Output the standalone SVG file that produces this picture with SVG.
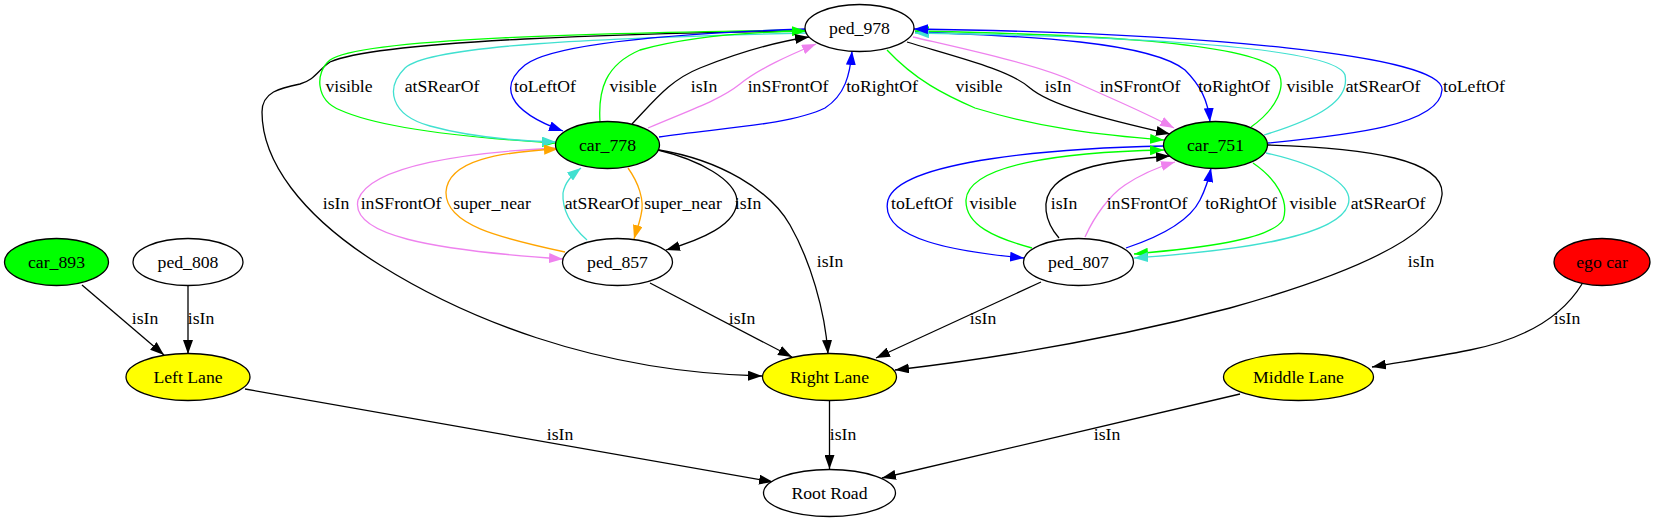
<svg xmlns="http://www.w3.org/2000/svg" width="1657" height="523" viewBox="0 0 1657 523">
<style>
text{font-family:"Liberation Serif","Times New Roman",serif;font-size:17.7px;text-anchor:middle;fill:#000}
.n{stroke:#000;stroke-width:1.3}
.e{fill:none;stroke-width:1.3}
.k{stroke:#000;marker-end:url(#ak)}
.g{stroke:#00ff00;marker-end:url(#ag)}
.t{stroke:#40e0d0;marker-end:url(#at)}
.b{stroke:#0000ff;marker-end:url(#ab)}
.v{stroke:#ee82ee;marker-end:url(#av)}
.o{stroke:#ffa500;marker-end:url(#ao)}
</style>
<defs>
<marker id="ak" markerUnits="userSpaceOnUse" viewBox="0 0 14 10" refX="14" refY="5" markerWidth="14" markerHeight="10" orient="auto"><path d="M0,0L14,5L0,10z" fill="#000"/></marker>
<marker id="ag" markerUnits="userSpaceOnUse" viewBox="0 0 14 10" refX="14" refY="5" markerWidth="14" markerHeight="10" orient="auto"><path d="M0,0L14,5L0,10z" fill="#00ff00"/></marker>
<marker id="at" markerUnits="userSpaceOnUse" viewBox="0 0 14 10" refX="14" refY="5" markerWidth="14" markerHeight="10" orient="auto"><path d="M0,0L14,5L0,10z" fill="#40e0d0"/></marker>
<marker id="ab" markerUnits="userSpaceOnUse" viewBox="0 0 14 10" refX="14" refY="5" markerWidth="14" markerHeight="10" orient="auto"><path d="M0,0L14,5L0,10z" fill="#0000ff"/></marker>
<marker id="av" markerUnits="userSpaceOnUse" viewBox="0 0 14 10" refX="14" refY="5" markerWidth="14" markerHeight="10" orient="auto"><path d="M0,0L14,5L0,10z" fill="#ee82ee"/></marker>
<marker id="ao" markerUnits="userSpaceOnUse" viewBox="0 0 14 10" refX="14" refY="5" markerWidth="14" markerHeight="10" orient="auto"><path d="M0,0L14,5L0,10z" fill="#ffa500"/></marker>
</defs>
<rect width="1657" height="523" fill="#fff"/>
<g id="edges">
<path class="e k" d="M806,31 C640,33 380,40 330,62 C318,70 315,80 300,84 C280,88 262,92 262,112 C262,160 300,215 380,265 C460,315 590,372 762,376"/>
<text x="336" y="209">isIn</text>
<path class="e g" d="M806,30 C600,33 360,38 330,60 C315,72 315,100 340,110 C380,128 470,138 556,143"/>
<text x="349" y="92">visible</text>
<path class="e t" d="M807,33 C600,38 430,45 405,68 C385,88 390,115 430,126 C470,137 520,141 556,142"/>
<text x="442" y="92">atSRearOf</text>
<path class="e b" d="M806,29 C690,33 555,42 525,65 C500,85 505,110 563,131"/>
<text x="545" y="92">toLeftOf</text>
<path class="e g" d="M600,122 C598,90 605,65 640,50 C690,36 750,32 806,31"/>
<text x="633" y="92">visible</text>
<path class="e k" d="M632,124 C655,100 670,80 700,68 C740,52 775,42 809,37"/>
<text x="704" y="92">isIn</text>
<path class="e v" d="M648,128 C690,110 720,100 740,84 C760,68 790,55 816,44"/>
<text x="788" y="92">inSFrontOf</text>
<path class="e b" d="M659,137 C720,128 790,125 825,108 C845,95 850,75 852,51"/>
<text x="882" y="92">toRightOf</text>
<path class="e g" d="M887,50 C915,80 945,95 975,108 C1040,128 1100,135 1164,140"/>
<text x="979" y="92">visible</text>
<path class="e k" d="M907,42 C960,58 1010,70 1030,88 C1050,105 1100,118 1170,134"/>
<text x="1058" y="92">isIn</text>
<path class="e v" d="M913,37 C960,48 1040,65 1075,82 C1110,98 1140,110 1174,128"/>
<text x="1140" y="92">inSFrontOf</text>
<path class="e b" d="M915,32 C1030,36 1150,42 1185,70 C1200,85 1208,100 1210,122"/>
<text x="1234" y="92">toRightOf</text>
<path class="e g" d="M1251,127 C1275,110 1290,85 1275,68 C1240,40 1060,34 915,31"/>
<text x="1310" y="92">visible</text>
<path class="e t" d="M1264,135 C1320,118 1350,100 1345,75 C1335,45 1100,36 915,33"/>
<text x="1383" y="92">atSRearOf</text>
<path class="e b" d="M1268,143 C1350,135 1440,125 1442,90 C1445,55 1200,33 914,29"/>
<text x="1474" y="92">toLeftOf</text>
<path class="e v" d="M557,148 C470,152 370,165 358,200 C350,235 430,250 563,259"/>
<text x="401" y="209">inSFrontOf</text>
<path class="e o" d="M565,252 C500,238 445,225 446,192 C448,160 500,152 558,149"/>
<text x="492" y="209">super_near</text>
<path class="e t" d="M587,240 C570,225 562,210 563,193 C565,182 572,175 581,168"/>
<text x="602" y="209">atSRearOf</text>
<path class="e o" d="M628,168 C638,182 645,200 641,215 C639,225 636,232 634,239"/>
<text x="683" y="209">super_near</text>
<path class="e k" d="M658,150 C700,160 735,180 737,200 C738,225 700,240 666,250"/>
<text x="748" y="209">isIn</text>
<path class="e k" d="M659,150 C720,160 770,190 790,225 C810,260 825,310 828,354"/>
<text x="830" y="267">isIn</text>
<path class="e b" d="M1164,146 C1060,148 900,160 888,200 C878,240 960,252 1024,258"/>
<text x="922" y="209">toLeftOf</text>
<path class="e g" d="M1032,248 C995,238 965,225 966,200 C968,165 1060,152 1164,150"/>
<text x="993" y="209">visible</text>
<path class="e k" d="M1059,238 C1045,222 1040,200 1055,185 C1075,165 1120,160 1170,156"/>
<text x="1064" y="209">isIn</text>
<path class="e v" d="M1085,237 C1095,215 1110,195 1125,185 C1140,175 1155,168 1175,162"/>
<text x="1147" y="209">inSFrontOf</text>
<path class="e b" d="M1126,248 C1165,235 1190,220 1200,200 C1206,188 1209,178 1211,168"/>
<text x="1241" y="209">toRightOf</text>
<path class="e g" d="M1253,163 C1275,178 1290,200 1283,220 C1270,240 1200,248 1134,254"/>
<text x="1313" y="209">visible</text>
<path class="e t" d="M1266,153 C1320,165 1355,185 1348,205 C1338,235 1250,250 1134,258"/>
<text x="1388" y="209">atSRearOf</text>
<path class="e k" d="M1268,145 C1370,148 1445,160 1442,195 C1438,240 1330,280 1230,308 C1100,342 980,360 895,370"/>
<text x="1421" y="267">isIn</text>
<path class="e k" d="M82,285 L164,355"/>
<text x="145" y="324">isIn</text>
<path class="e k" d="M188,285 L188,354"/>
<text x="201" y="324">isIn</text>
<path class="e k" d="M650,283 L792,357"/>
<text x="742" y="324">isIn</text>
<path class="e k" d="M1041,282 L876,358"/>
<text x="983" y="324">isIn</text>
<path class="e k" d="M1582,284 C1560,320 1520,340 1470,350 C1430,358 1400,362 1372,367"/>
<text x="1567" y="324">isIn</text>
<path class="e k" d="M245,389 L773,482"/>
<text x="560" y="440">isIn</text>
<path class="e k" d="M829.5,401 L829.5,469"/>
<text x="843" y="440">isIn</text>
<path class="e k" d="M1240,394 L882,478"/>
<text x="1107" y="440">isIn</text>
</g>
<g id="ped_978"><ellipse class="n" cx="859.5" cy="28" rx="54.5" ry="23.5" fill="#fff"/><text x="859.5" y="34">ped_978</text></g>
<g id="car_778"><ellipse class="n" cx="607.5" cy="145" rx="52" ry="23.5" fill="#00ff00"/><text x="607.5" y="151">car_778</text></g>
<g id="car_751"><ellipse class="n" cx="1215.5" cy="145" rx="52" ry="23.5" fill="#00ff00"/><text x="1215.5" y="151">car_751</text></g>
<g id="ped_857"><ellipse class="n" cx="617.5" cy="262" rx="55" ry="23.5" fill="#fff"/><text x="617.5" y="268">ped_857</text></g>
<g id="ped_807"><ellipse class="n" cx="1078.5" cy="262" rx="55" ry="23.5" fill="#fff"/><text x="1078.5" y="268">ped_807</text></g>
<g id="car_893"><ellipse class="n" cx="56.5" cy="262" rx="52" ry="23.5" fill="#00ff00"/><text x="56.5" y="268">car_893</text></g>
<g id="ped_808"><ellipse class="n" cx="188" cy="262" rx="55" ry="23.5" fill="#fff"/><text x="188" y="268">ped_808</text></g>
<g id="ego_car"><ellipse class="n" cx="1602" cy="262" rx="48" ry="23.5" fill="#ff0000"/><text x="1602" y="268">ego car</text></g>
<g id="left_lane"><ellipse class="n" cx="188" cy="377" rx="62" ry="23.5" fill="#ffff00"/><text x="188" y="383">Left Lane</text></g>
<g id="right_lane"><ellipse class="n" cx="829.5" cy="377" rx="67" ry="23.5" fill="#ffff00"/><text x="829.5" y="383">Right Lane</text></g>
<g id="middle_lane"><ellipse class="n" cx="1298.5" cy="377" rx="75" ry="23.5" fill="#ffff00"/><text x="1298.5" y="383">Middle Lane</text></g>
<g id="root_road"><ellipse class="n" cx="829.5" cy="493" rx="66" ry="23.5" fill="#fff"/><text x="829.5" y="499">Root Road</text></g>
</svg>
